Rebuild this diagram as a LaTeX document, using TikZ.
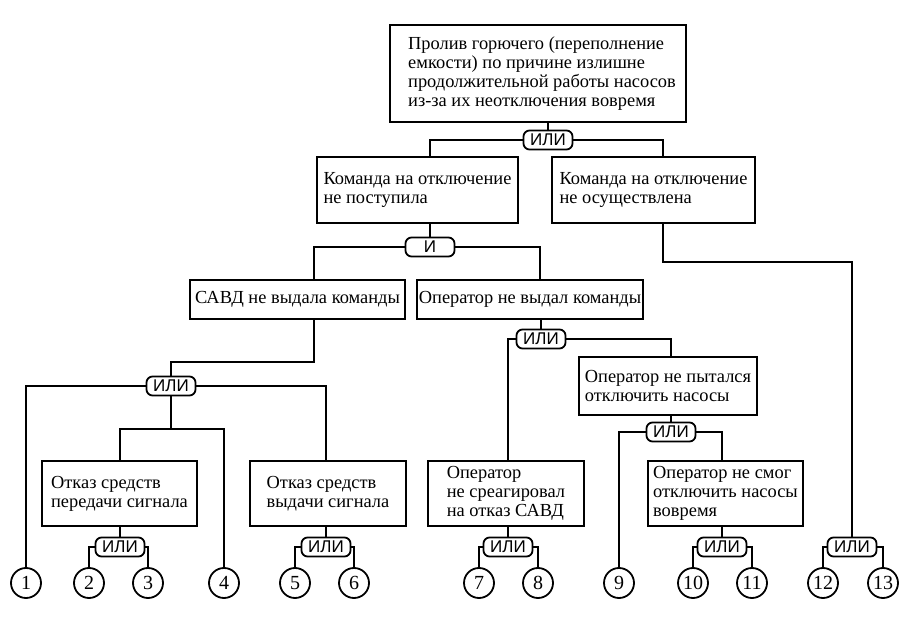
\documentclass[tikz,border=0pt]{standalone}
\usepackage{fontspec}
\setmainfont{Liberation Serif}
\newfontfamily\gatefont{Liberation Sans}

\begin{document}
\begin{tikzpicture}[x=1pt, y=-1pt, line width=1.8pt,
  event node/.style={draw, align=left, inner sep=0pt, font=\fontsize{18.4}{19}\selectfont},
  gate node/.style={draw, fill=white, rounded corners=6pt, minimum width=49pt,
    minimum height=19pt, inner sep=0pt, font=\gatefont\fontsize{17}{17}\selectfont},
  leaf node/.style={circle, draw, minimum size=30pt, inner sep=0pt, font=\fontsize{20}{20}\selectfont}]

\useasboundingbox (0,0) rectangle (908,620);

\node[event node, minimum width=296pt, minimum height=97pt] (T) at (538,73.5)
  {\hspace*{8pt}Пролив горючего (переполнение\\\hspace*{8pt}емкости) по причине излишне\\\hspace*{8pt}продолжительной работы насосов\\\hspace*{8pt}из-за их неотключения вовремя};
\node[event node, minimum width=201pt, minimum height=66pt] (K1) at (417.5,190)
  {Команда на отключение\\не поступила};
\node[event node, minimum width=203pt, minimum height=66pt] (K2) at (653.5,190)
  {Команда на отключение\\не осуществлена};
\node[event node, minimum width=215pt, minimum height=39pt] (S) at (297.5,299.5)
  {САВД не выдала команды};
\node[event node, minimum width=226pt, minimum height=39pt] (O) at (530,299.5)
  {Оператор не выдал команды};
\node[event node, minimum width=155pt, minimum height=65pt] (P) at (119.5,493.5)
  {Отказ средств\\передачи сигнала};
\node[event node, minimum width=156pt, minimum height=65pt] (V) at (328,493.5)
  {Отказ средств\\выдачи сигнала};
\node[event node, minimum width=178pt, minimum height=58pt] (N) at (668,386)
  {Оператор не пытался\\отключить насосы};
\node[event node, minimum width=156pt, minimum height=65pt] (R) at (506,493.5)
  {Оператор\\не среагировал\\на отказ САВД};
\node[event node, minimum width=155pt, minimum height=65pt] (M) at (725.5,493.5)
  {Оператор не смог\\отключить насосы\\вовремя};

\node[gate node] (g1) at (548,140) {ИЛИ};
\node[gate node] (g2) at (430,247) {И};
\node[gate node] (g3) at (171,386) {ИЛИ};
\node[gate node] (g4) at (541,339) {ИЛИ};
\node[gate node] (g5) at (671,432) {ИЛИ};
\node[gate node] (g6) at (120,547) {ИЛИ};
\node[gate node] (g7) at (326,547) {ИЛИ};
\node[gate node] (g8) at (508,547) {ИЛИ};
\node[gate node] (g9) at (722,547) {ИЛИ};
\node[gate node] (g10) at (852,547) {ИЛИ};

\foreach \n/\x in {1/26, 2/89, 3/148, 4/224, 5/295, 6/354, 7/479,
                   8/538, 9/619, 10/693, 11/752, 12/823, 13/883}
  \node[leaf node] (c\n) at (\x,583) {\n};

\coordinate (s1) at (314,362);
\coordinate (j3) at (171,429);
\coordinate (k2) at (663,262);

\draw (T.south -| g1) -- (g1.north);
\draw (g1.west) -| ([xshift=12.5pt]K1.north);
\draw (g1.east) -| ([xshift=9.5pt]K2.north);
\draw (K1.south -| g2) -- (g2.north);
\draw (g2.west) -| ([xshift=16.5pt]S.north);
\draw (g2.east) -| ([xshift=10pt]O.north);
\draw (S.south -| s1) -- (s1) -| (g3.north);
\draw (O.south -| g4) -- (g4.north);
\draw (K2.south -| k2) -- (k2) -| (g10.north);

\draw (g3.west) -| (c1.north);
\draw (g3.east) -| (V.north -| g7);
\draw (g3.south) -- (j3);
\draw (P.north -| g6) |- (j3) -| (c4.north);
\draw (P.south -| g6) -- (g6.north);
\draw (V.south -| g7) -- (g7.north);

\draw (g4.west) -| (R.north -| g8);
\draw (g4.east) -| (N.north -| g5);
\draw (N.south -| g5) -- (g5.north);
\draw (g5.west) -| (c9.north);
\draw (g5.east) -| (M.north -| g9);
\draw (R.south -| g8) -- (g8.north);
\draw (M.south -| g9) -- (g9.north);

\draw (g6.west) -| (c2.north);
\draw (g6.east) -| (c3.north);
\draw (g7.west) -| (c5.north);
\draw (g7.east) -| (c6.north);
\draw (g8.west) -| (c7.north);
\draw (g8.east) -| (c8.north);
\draw (g9.west) -| (c10.north);
\draw (g9.east) -| (c11.north);
\draw (g10.west) -| (c12.north);
\draw (g10.east) -| (c13.north);

\end{tikzpicture}
\end{document}
